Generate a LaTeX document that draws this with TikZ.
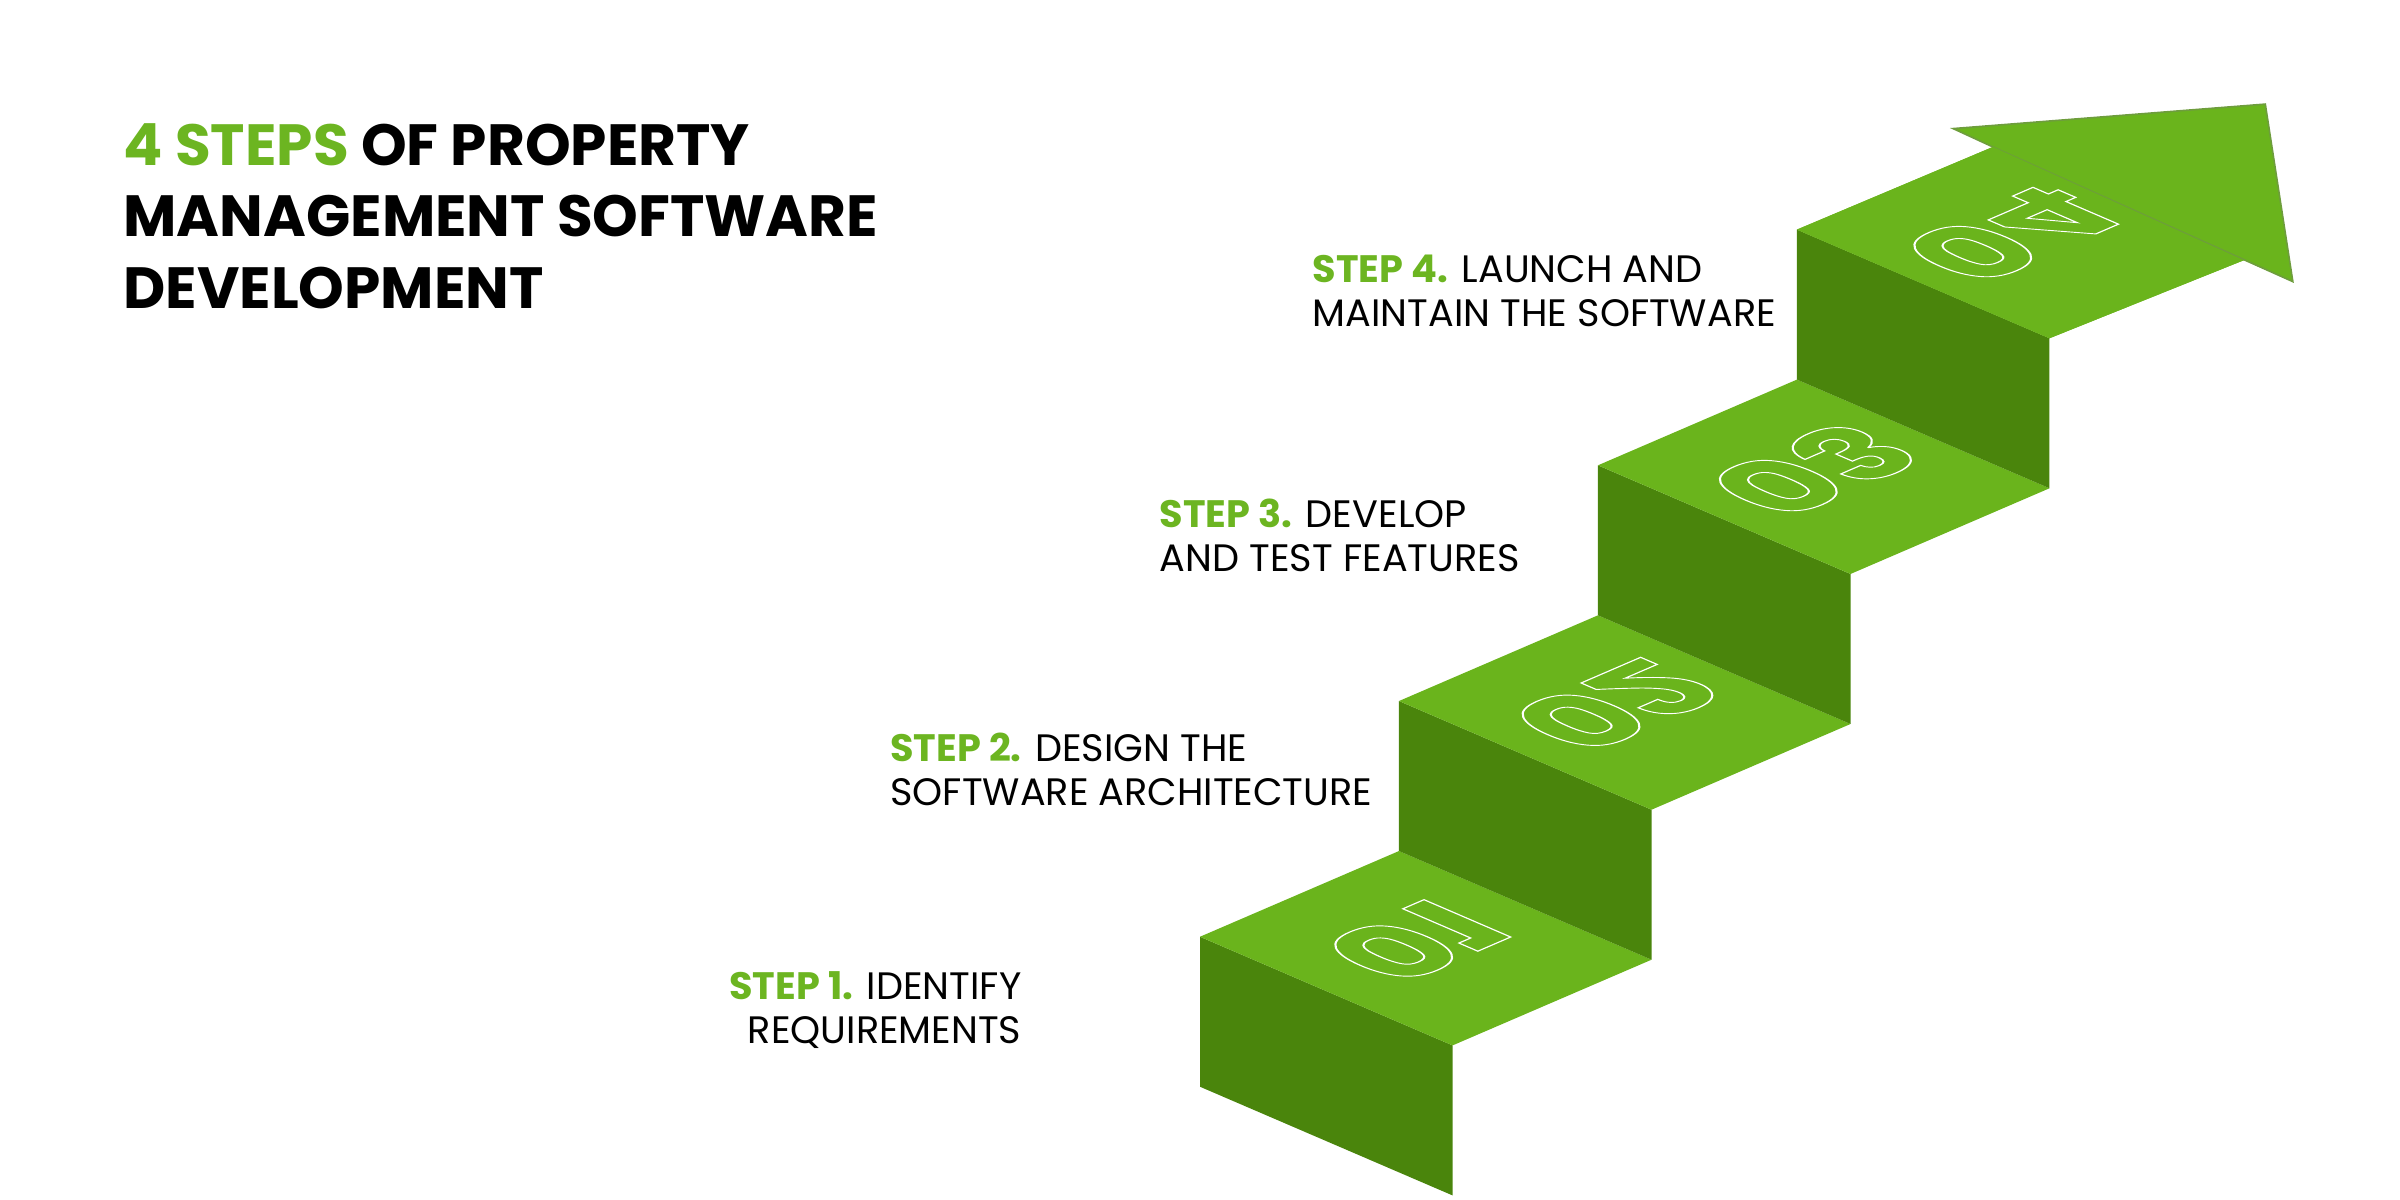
\documentclass[tikz,border=0pt]{standalone}
\usepackage{fontspec}
\setmainfont{Poppins}
\usetikzlibrary{calc,positioning}
\definecolor{StepLight}{HTML}{6AB41C}
\definecolor{StepDark}{HTML}{4A850C}
\definecolor{StepText}{HTML}{6CB521}
\tikzset{
    riser/.style = {fill=StepDark},
    tread/.style = {fill=StepLight},
    steplabel/.style = {font=\fontsize{7.1}{8.2}\selectfont, inner sep=0pt},
    stepnum/.style = {font=\fontsize{24}{24}\selectfont\bfseries, text=white, inner sep=0pt}
}
\newcommand{\outlinetext}[1]{\special{pdf:code 1 Tr 0.3 w}#1\special{pdf:code 0 Tr}}
\begin{document}
\begin{tikzpicture}[x=0.01cm,y=-0.01cm]
    \useasboundingbox (0,0) rectangle (1568,784);
    % stairs
    \foreach \k in {1,...,4}{
        \coordinate (p\k) at ({784+130*(\k-1)},{612-154*(\k-1)});
        \fill[riser] (p\k) -- ++(0,98) -- ++(165,71) -- ++(0,-98) -- cycle;
        \ifnum\k<4
            \fill[tread] (p\k) -- ++(130,-56) -- ++(165,71) -- ++(-130,56) -- cycle;
        \fi
    }
    % arrow on top step
    \fill[StepLight] (p4) -- (1302,96) -- (1276,84) -- (1480,68) -- (1498,184)
        -- (1466,170) -- ($(p4)+(165,71)$) -- cycle;
    \draw[StepDark!80,line width=0.3pt] (1276,84) -- (1480,68) -- (1498,184) -- (1302,96) -- cycle;
    \fill[StepLight] (p4) -- (1302,96) -- (1466,170) -- ($(p4)+(165,71)$) -- cycle;
    % numbers
    \foreach \k/\n in {1/01,2/02,3/03,4/04}{
        \node[stepnum, transform shape, cm={0.918,0.396,0.919,-0.396,(0,0)}]
            (num\k) at ($(p\k)+(141,3)$) {\outlinetext{\n}};
    }
    % title
    \node[anchor=north west, align=left, inner sep=0pt,
          font=\fontsize{10.8}{13.3}\selectfont\bfseries] (title) at (80,80)
        {\textcolor{StepText}{4 STEPS} OF PROPERTY\\MANAGEMENT SOFTWARE\\DEVELOPMENT};
    % step texts
    \node[steplabel, anchor=north east, align=right] (s1) at (668,634)
        {\textcolor{StepText}{\bfseries STEP 1.} IDENTIFY\\REQUIREMENTS};
    \node[steplabel, anchor=north west, align=left] (s2) at (581,478)
        {\textcolor{StepText}{\bfseries STEP 2.} DESIGN THE\\SOFTWARE ARCHITECTURE};
    \node[steplabel, anchor=north west, align=left] (s3) at (757,325)
        {\textcolor{StepText}{\bfseries STEP 3.} DEVELOP\\AND TEST FEATURES};
    \node[steplabel, anchor=north west, align=left] (s4) at (857,166)
        {\textcolor{StepText}{\bfseries STEP 4.} LAUNCH AND\\MAINTAIN THE SOFTWARE};
\end{tikzpicture}
\end{document}
